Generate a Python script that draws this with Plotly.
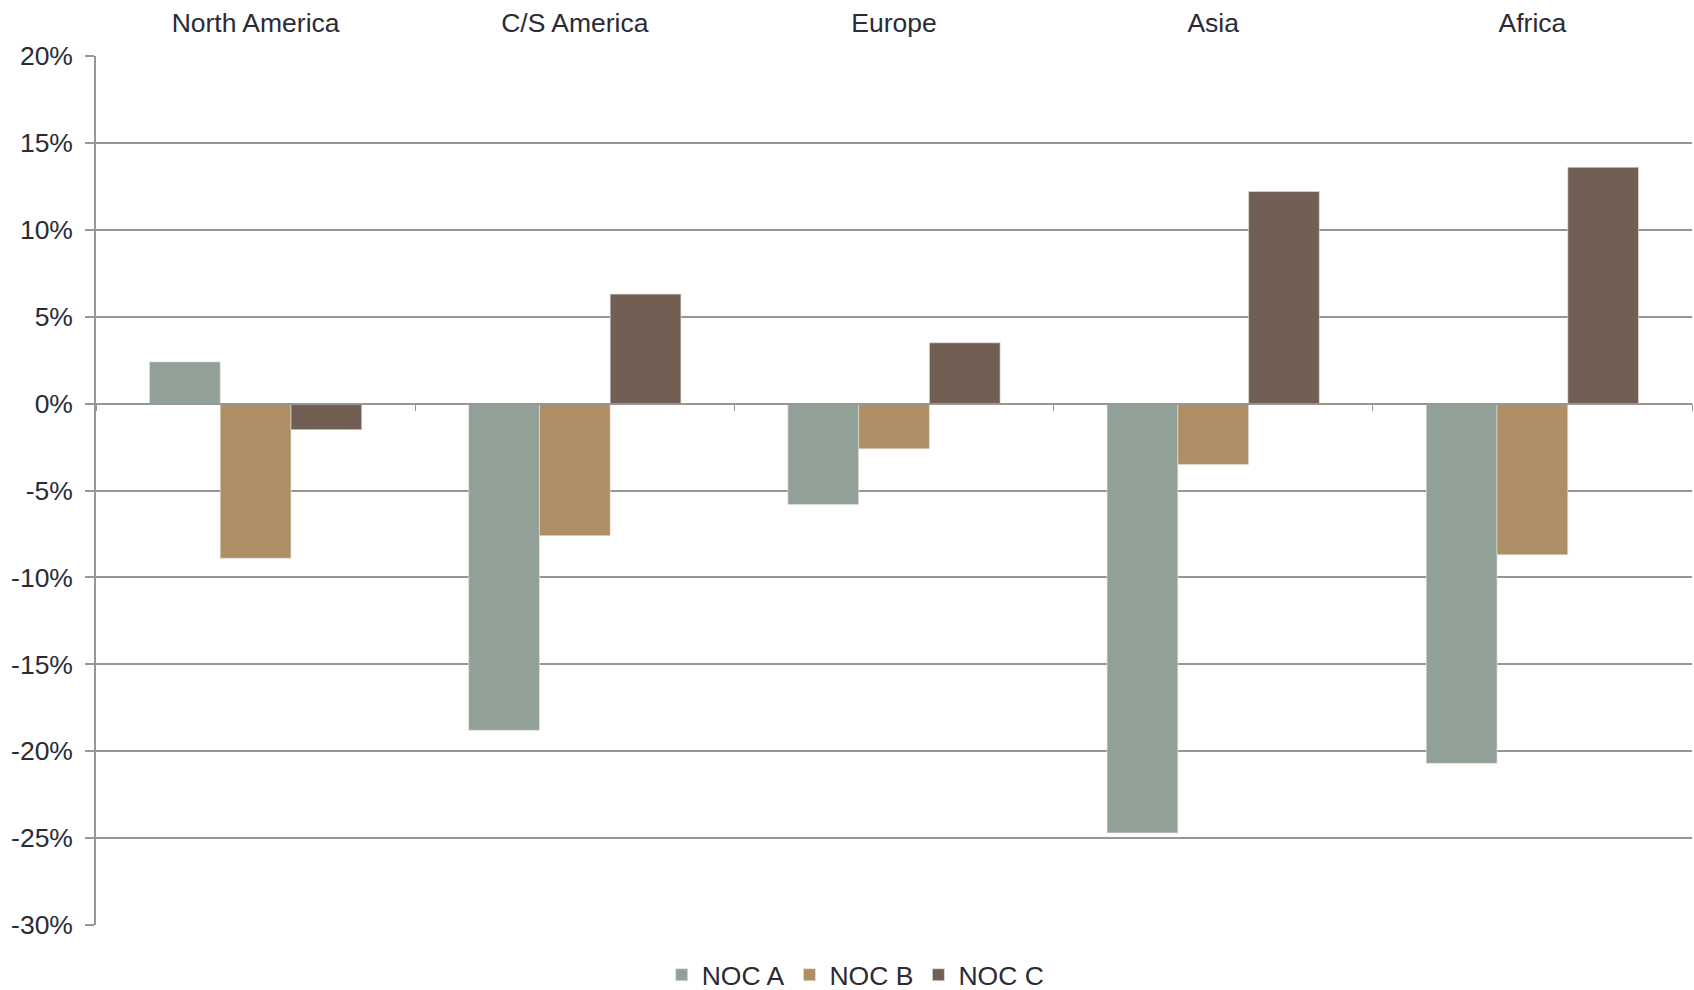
import plotly.graph_objects as go

categories = ["North America", "C/S America", "Europe", "Asia", "Africa"]
noc_a = [2.4, -18.8, -5.8, -24.7, -20.7]
noc_b = [-8.9, -7.6, -2.6, -3.5, -8.7]
noc_c = [-1.5, 6.3, 3.5, 12.2, 13.6]
series_names = ["NOC A", "NOC B", "NOC C"]
colors = ["#91a197", "#ad8e65", "#725f53"]
y_ticks = [20, 15, 10, 5, 0, -5, -10, -15, -20, -25, -30]
y_tick_labels = ["20%", "15%", "10%", "5%", "0%", "-5%", "-10%", "-15%", "-20%", "-25%", "-30%"]

text_color = "#2b2b35"
grid_color = "#969696"
font_family = "Liberation Sans, Arial, sans-serif"
fs = 26.5

fig = go.Figure()
for name, vals, col in zip(series_names, [noc_a, noc_b, noc_c], colors):
    fig.add_trace(go.Bar(
        x=categories, y=vals, name=name,
        marker=dict(color=col, line=dict(color="rgba(230,225,220,0.8)", width=0.8)),
    ))
# invisible helper trace on the top label axis
fig.add_trace(go.Scatter(x=categories, y=[0]*len(categories), xaxis="x2",
                         mode="markers", marker=dict(opacity=0), showlegend=False,
                         hoverinfo="skip"))

fig.update_layout(
    width=1694, height=990,
    margin=dict(l=96, r=2, t=56, b=65),
    paper_bgcolor="white", plot_bgcolor="white",
    font=dict(family=font_family, size=fs, color=text_color),
    barmode="group", bargap=0.335, bargroupgap=0,
    showlegend=True,
    legend=dict(orientation="h", x=0.476, xanchor="center",
                yref="container", y=1 - 975/990, yanchor="middle",
                font=dict(size=fs, color=text_color), itemwidth=30,
                traceorder="normal"),
    xaxis=dict(
        type="category", anchor="free", position=0.6,
        showticklabels=False, showgrid=False, zeroline=False,
        showline=True, linecolor=grid_color, linewidth=1.5,
        ticks="outside", tickson="boundaries", ticklen=7, tickcolor=grid_color,
    ),
    xaxis2=dict(
        type="category", overlaying="x", matches="x", side="top", anchor="y",
        showticklabels=True, showgrid=False, zeroline=False, showline=False, ticks="",
        tickfont=dict(size=fs, color=text_color), ticklabelstandoff=18,
    ),
    yaxis=dict(
        range=[-30, 20], tickvals=y_ticks, ticktext=y_tick_labels,
        showgrid=True, gridcolor=grid_color, gridwidth=1.5,
        zeroline=False,
        showline=True, linecolor=grid_color, linewidth=1.5,
        ticks="outside", ticklen=9, tickcolor=grid_color, tickwidth=1.5,
        tickfont=dict(size=fs, color=text_color), ticklabelstandoff=7,
    ),
)

fig.write_html("out.html")
